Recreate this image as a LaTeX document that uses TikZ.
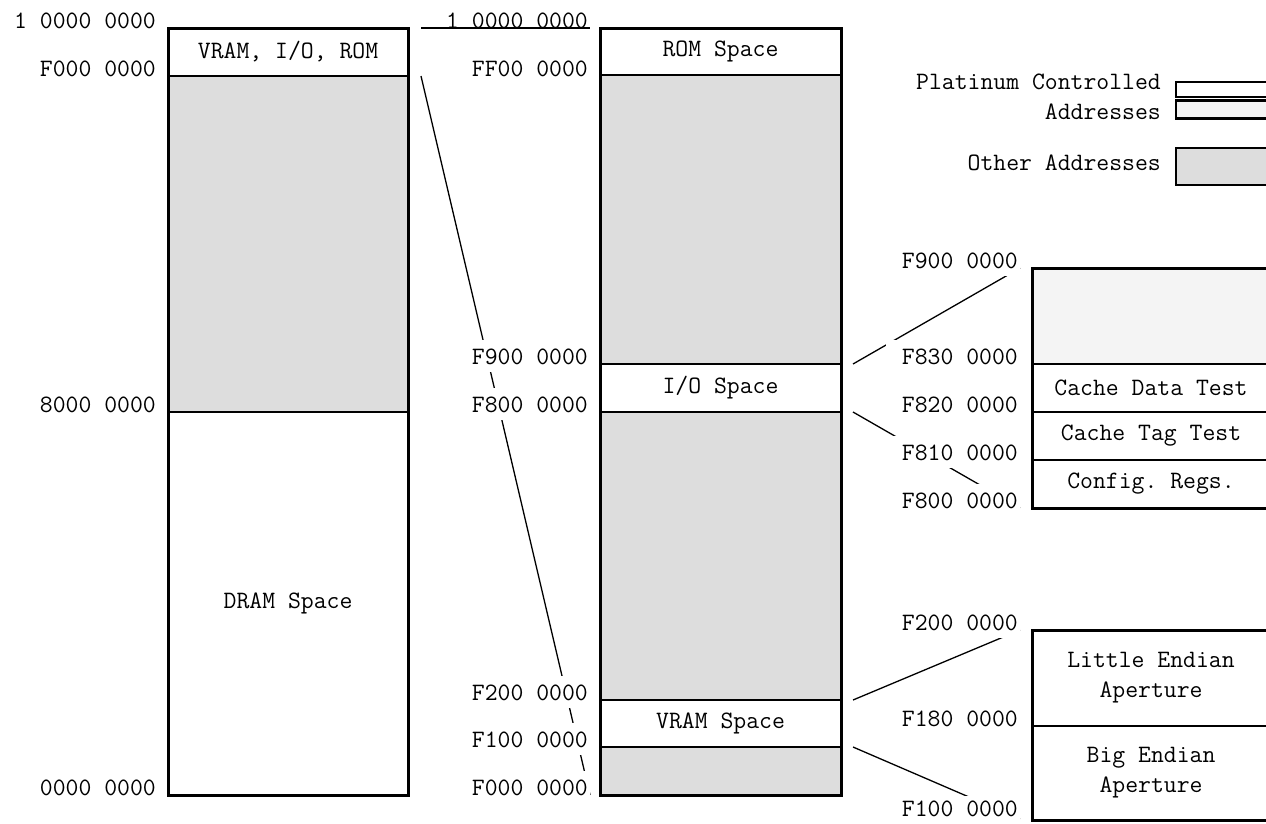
\documentclass[tikz,border=0pt]{standalone}
\usepackage{fontspec}
\setmonofont{Latin Modern Mono}
\pgfdeclarelayer{bg}
\pgfsetlayers{bg,main}
\definecolor{othgray}{HTML}{DDDDDD}
\definecolor{pltgray}{HTML}{F4F4F4}
\tikzset{
  region/.style={draw, line width=2pt, outer sep=0pt, inner sep=0pt, align=center, anchor=north west},
  frame/.style={line width=3pt},
  lab/.style={fill=white, inner xsep=2pt, inner ysep=8pt, anchor=base east, execute at begin node=\hspace*{14pt}},
  leglab/.style={inner sep=0pt, anchor=base east},
  legbox/.style={draw, line width=2.2pt, outer sep=0pt, inner sep=0pt, anchor=north west, minimum width=110pt},
  conn/.style={line width=1.3pt},
}
\begin{document}
\begin{tikzpicture}[x=1pt,y=-1pt,font=\ttfamily\fontsize{25}{30}\selectfont]
\useasboundingbox (0,0) rectangle (1266,823);
% left column
\node[region, minimum width=240pt, minimum height=48pt] (vio) at (168,28) {VRAM, I/O, ROM};
\node[region, fill=othgray, minimum width=240pt, minimum height=336pt] (lg) at (168,76) {};
\node[region, minimum width=240pt, minimum height=383pt] (dram) at (168,412) {DRAM Space};
\draw[frame] (vio.north west) rectangle (dram.south east);
% middle column
\node[region, minimum width=241pt, minimum height=47pt] (rom) at (600,28) {ROM Space};
\node[region, fill=othgray, minimum width=241pt, minimum height=289pt] (mg1) at (600,75) {};
\node[region, minimum width=241pt, minimum height=48pt] (io) at (600,364) {I/O Space};
\node[region, fill=othgray, minimum width=241pt, minimum height=288pt] (mg2) at (600,412) {};
\node[region, minimum width=241pt, minimum height=47pt] (vram) at (600,700) {VRAM Space};
\node[region, fill=othgray, minimum width=241pt, minimum height=48pt] (mg3) at (600,747) {};
\draw[frame] (rom.north west) rectangle (mg3.south east);
% right column, upper
\begin{scope}
\clip (0,0) rectangle (1266,823);
\node[region, fill=pltgray, minimum width=238pt, minimum height=96pt] (pgap) at (1032,268) {};
\node[region, minimum width=238pt, minimum height=48pt] (cdt) at (1032,364) {Cache Data Test};
\node[region, minimum width=238pt, minimum height=48pt] (ctt) at (1032,412) {Cache Tag Test};
\node[region, minimum width=238pt, minimum height=48pt] (cfg) at (1032,460) {Config. Regs.};
\draw[frame] (pgap.north west) rectangle (cfg.south east);
% right column, lower
\node[region, minimum width=238pt, minimum height=96pt] (le) at (1032,630) {Little Endian\\Aperture};
\node[region, minimum width=238pt, minimum height=94pt] (be) at (1032,726) {Big Endian\\Aperture};
\draw[frame] (le.north west) rectangle (be.south east);
% legend
\node[legbox, fill=white, minimum height=15pt] (lp1) at (1176,82) {};
\node[legbox, fill=pltgray, minimum height=18pt] (lp2) at (1176,100.5) {};
\node[legbox, fill=othgray, minimum height=37pt] (lo) at (1176,148) {};
\end{scope}
\node[leglab] (lpt1) at (1161,89) {Platinum Controlled};
\node[leglab] (lpt2) at (1161,119) {Addresses};
\node[leglab] (lot) at (1161,170) {Other Addresses};
% left labels
\node[lab] (l10) at (158,28) {1 0000 0000};
\node[lab] (lf0) at (158,76) {F000 0000};
\node[lab] (l80) at (158,412) {8000 0000};
\node[lab] (l00) at (158,795) {0000 0000};
% middle labels
\node[lab, fill=none] (m10) at (590,28) {1 0000 0000};
\node[lab] (mff) at (590,76) {FF00 0000};
\node[lab] (m900) at (590,364) {F900 0000};
\node[lab] (m800) at (590,412) {F800 0000};
\node[lab] (m200) at (590,700) {F200 0000};
\node[lab] (m100) at (590,747) {F100 0000};
\node[lab] (m000) at (590,795) {F000 0000};
% right labels
\node[lab] (r900) at (1020,268) {F900 0000};
\node[lab] (r830) at (1020,364) {F830 0000};
\node[lab] (r820) at (1020,412) {F820 0000};
\node[lab] (r810) at (1020,460) {F810 0000};
\node[lab] (r800) at (1020,508) {F800 0000};
\node[lab] (r200) at (1020,630) {F200 0000};
\node[lab] (r180) at (1020,726) {F180 0000};
\node[lab, inner ysep=4.5pt] (r100) at (1020,816) {F100 0000};
% connector start points
\coordinate (a1) at ([xshift=13pt]vio.north east);
\coordinate (a2) at ([xshift=13pt]vio.south east);
\coordinate (b1) at ([xshift=12pt]io.north east);
\coordinate (b2) at ([xshift=12pt]io.south east);
\coordinate (b3) at ([xshift=12pt]vram.north east);
\coordinate (b4) at ([xshift=12pt]vram.south east);
\begin{pgfonlayer}{bg}
\draw[conn] (a1) -- (m10.base east);
\draw[conn] (a2) -- (m000.base east);
\draw[conn] (b1) -- (r900.base east);
\draw[conn] (b2) -- (r800.base east);
\draw[conn] (b3) -- (r200.base east);
\draw[conn] (b4) -- ([yshift=-3pt]r100.base east);
\end{pgfonlayer}
\end{tikzpicture}
\end{document}
